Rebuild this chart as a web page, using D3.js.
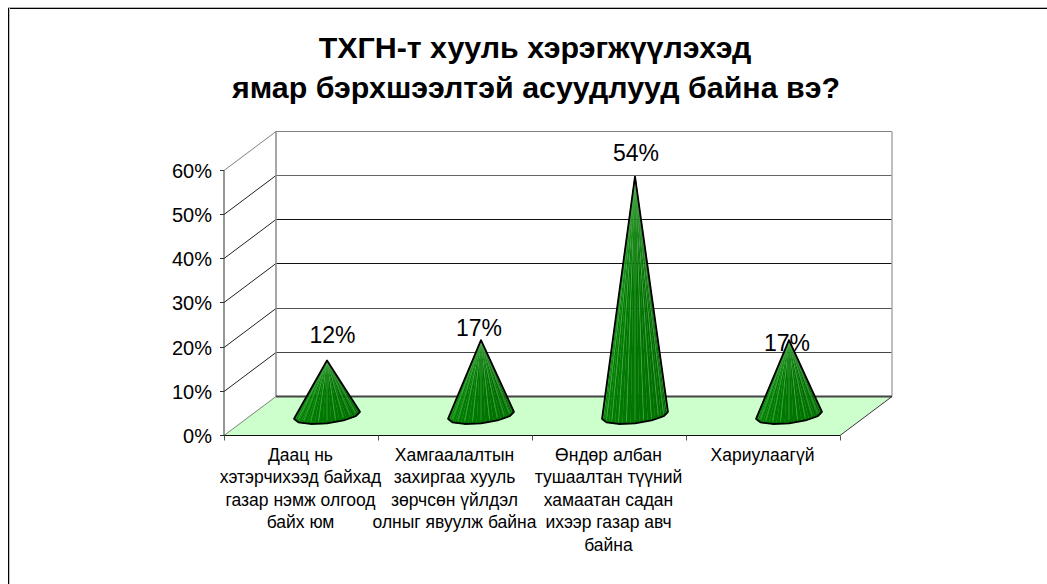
<!DOCTYPE html>
<html><head><meta charset="utf-8">
<script src="https://cdnjs.cloudflare.com/ajax/libs/d3/7.8.5/d3.min.js"></script>
<style>html,body{margin:0;padding:0;background:#fff}svg{display:block}text{font-family:"Liberation Sans",Arial,sans-serif;fill:#000}</style>
</head><body><svg id="c" width="1047" height="584"></svg>
<script>
const titleLines = ["ТХГН-т хууль хэрэгжүүлэхэд", "ямар бэрхшээлтэй асуудлууд байна вэ?"];
const categories = ["Даац нь","Хамгаалалтын","Өндөр албан","Хариулаагүй"];
const categoryLines = [
  ["Даац нь","хэтэрчихээд байхад","газар нэмж олгоод","байх юм"],
  ["Хамгаалалтын","захиргаа хууль","зөрчсөн үйлдэл","олныг явуулж байна"],
  ["Өндөр албан","тушаалтан түүний","хамаатан садан","ихээр газар авч","байна"],
  ["Хариулаагүй"]
];
const values = [12.4, 17, 54, 17];
const valueLabels = ["12%","17%","54%","17%"];
const yTicks = [0,10,20,30,40,50,60];

const svg = d3.select("#c");
const y = d3.scaleLinear().domain([0,60]).range([435,169.8]);
const x = d3.scaleBand().domain(categories).range([224,840]);
const depth = {dx:52, dy:-39};
const left = x.range()[0], right = x.range()[1];

// frame
svg.append("line").attr("x1",8).attr("x2",1047).attr("y1",7.5).attr("y2",7.5).attr("stroke","#b5b5b5");
svg.append("line").attr("x1",8).attr("x2",1047).attr("y1",8.5).attr("y2",8.5).attr("stroke","#000");
svg.append("line").attr("x1",9.5).attr("x2",9.5).attr("y1",8).attr("y2",584).attr("stroke","#c0c0c0");
svg.append("line").attr("x1",8.5).attr("x2",8.5).attr("y1",8).attr("y2",584).attr("stroke","#000");

// title
svg.selectAll("text.title").data(titleLines).join("text").attr("class","title")
  .attr("x",(d,i)=>[535,536][i]).attr("y",(d,i)=>[58,98][i]).attr("text-anchor","middle")
  .attr("font-size",30.4).attr("font-weight","bold").text(d=>d);

// floor
const floor = [[left,y(0)],[right,y(0)],[right+depth.dx,y(0)+depth.dy],[left+depth.dx,y(0)+depth.dy]];
svg.append("polygon").attr("points",floor.join(" ")).attr("fill","#ccffcc");

// walls & grid
const gridCol = d3.scaleOrdinal().domain(yTicks).range(["#444","#444","#555","#111","#111","#666","#808080"]);
yTicks.forEach(t=>{
  const py=Math.round(y(t))+.5;
  if(t>0) svg.append("line").attr("x1",left+depth.dx).attr("x2",right+depth.dx).attr("y1",py+depth.dy).attr("y2",py+depth.dy)
    .attr("stroke",gridCol(t)).attr("stroke-width",1.1);
  svg.append("line").attr("x1",left).attr("x2",left+depth.dx).attr("y1",py).attr("y2",py+depth.dy)
    .attr("stroke",t===0||t===60?"#808080":"#222").attr("stroke-width",1);
  svg.append("line").attr("x1",left-4).attr("x2",left).attr("y1",py).attr("y2",py).attr("stroke","#333");
  svg.append("text").attr("x",left-12).attr("y",py+7).attr("text-anchor","end").attr("font-size",20).text(t+"%");
});
const yTop=Math.round(y(60))+.5, y0=Math.round(y(0))+.5;
svg.append("line").attr("x1",left+depth.dx).attr("x2",left+depth.dx).attr("y1",yTop+depth.dy).attr("y2",y0+depth.dy).attr("stroke","#8a8a8a").attr("stroke-width",1.5);
svg.append("line").attr("x1",right+depth.dx).attr("x2",right+depth.dx).attr("y1",yTop+depth.dy).attr("y2",y0+depth.dy).attr("stroke","#aaa").attr("stroke-width",1.5);
svg.append("line").attr("x1",left).attr("x2",left).attr("y1",yTop).attr("y2",y0).attr("stroke","#333");
svg.append("line").attr("x1",left+depth.dx).attr("x2",right+depth.dx).attr("y1",y0+depth.dy).attr("y2",y0+depth.dy).attr("stroke","#444").attr("stroke-width",1.8);
svg.append("line").attr("x1",left).attr("x2",right).attr("y1",y0).attr("y2",y0).attr("stroke","#111");
svg.append("line").attr("x1",right).attr("x2",right+depth.dx).attr("y1",y0).attr("y2",y0+depth.dy).attr("stroke","#333");

// x ticks
const edges = categories.map(c=>x(c)).concat(right);
edges.forEach(e=>svg.append("line").attr("x1",e+.5).attr("x2",e+.5).attr("y1",y0).attr("y2",y0+5).attr("stroke","#555"));

// category labels
categoryLines.forEach((ls,i)=>{
  svg.selectAll(null).data(ls).join("text")
    .attr("x",x(categories[i])+x.bandwidth()/2-.5).attr("y",(d,j)=>461+j*22.4)
    .attr("text-anchor","middle").attr("font-size",17.5).text(d=>d);
});

// cones
const rx = x.bandwidth()*0.214, ry = 8, skew = 3.5, baseOffset = -19.7, N = 24;
const shade = d3.scaleLinear().domain([0,.25,.5,.75,1]).range(["#0a8a0a","#007c00","#007600","#007000","#006a00"]);
const line = d3.line();
const coneX = i => x(categories[i])+x.bandwidth()/2+depth.dx/2;
values.forEach((v,i)=>{
  const cx = coneX(i);
  const by = y(0)+baseOffset;
  const apex=[cx, y(v)+baseOffset];
  const g=svg.append("g");
  const arc = d3.range(N+1).map(k=>{const t=Math.PI*(1-k/N);return [cx+rx*Math.cos(t), by+ry*Math.sin(t)-skew*Math.cos(t)];});
  d3.range(N).forEach(k=>{
    g.append("polygon").attr("points",[apex,arc[k],arc[k+1]].join(" ")).attr("fill",shade((k+.5)/N)).attr("stroke",shade((k+.5)/N)).attr("stroke-width",.3);
  });
  d3.range(1,N).forEach(k=>{ if(k%2===0) g.append("line").attr("x1",apex[0]).attr("y1",apex[1]).attr("x2",arc[k][0]).attr("y2",arc[k][1]-3)
    .attr("stroke","#8fdc8f").attr("stroke-opacity",.5).attr("stroke-width",.7);});
  const outline = arc.filter((p,k)=>k%4===0);
  g.append("path").attr("d",line([apex,...outline])+"Z").attr("fill","none").attr("stroke","#000").attr("stroke-width",1.8).attr("stroke-linejoin","round");
});
// data labels (nudged off each apex the way the source placed them)
const labelNudge=[[5.5,-17],[-2,-4],[1,-16],[-2,11]];
values.forEach((v,i)=>{
  svg.append("text").attr("x",coneX(i)+labelNudge[i][0]).attr("y",y(v)+baseOffset+labelNudge[i][1])
    .attr("text-anchor","middle").attr("font-size",23).text(valueLabels[i]);
});
</script></body></html>
